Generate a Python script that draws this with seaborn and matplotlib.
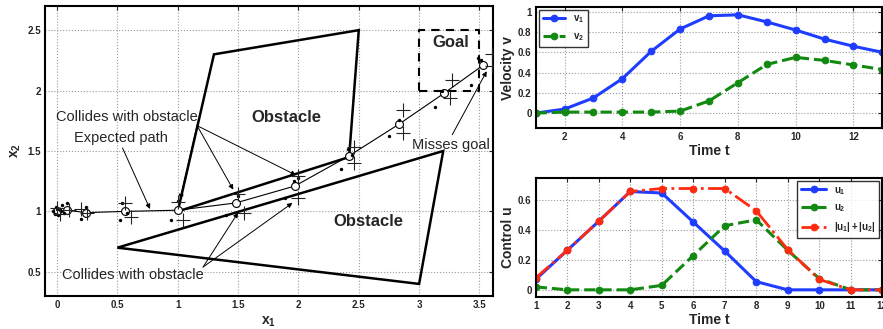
import matplotlib
matplotlib.use("Agg")
import matplotlib.pyplot as plt
import numpy as np
import pandas as pd
import seaborn as sns

# expected path (open circles joined by a thin line)
path_x1 = [0.0, 0.08, 0.24, 0.56, 1.0, 1.48, 1.97, 2.42, 2.83, 3.21, 3.53]
path_x2 = [1.0, 1.01, 0.99, 1.0, 1.01, 1.07, 1.21, 1.46, 1.72, 1.98, 2.21]

# sampled states (small dots)
dot_x1 = [-0.03, -0.02, 0.0, 0.01, -0.01, 0.03, 0.04, 0.06, 0.02, 0.08, 0.2, 0.24, 0.54, 0.52, 0.58,
          0.94, 1.0, 1.5, 1.4, 1.965, 1.89, 2.0, 2.35, 2.41, 2.44, 2.75, 2.83, 3.13, 3.19, 3.43, 3.49, 3.51]
dot_x2 = [1.0, 0.98, 1.02, 0.97, 1.04, 1.0, 1.05, 0.99, 1.01, 1.07, 0.94, 1.04, 1.07, 0.93, 0.99,
          0.93, 1.085, 1.13, 0.97, 1.25, 1.11, 1.28, 1.355, 1.52, 1.47, 1.62, 1.76, 1.86, 2.0, 2.05, 2.27, 2.25]

# sampled states (big crosses)
cross_x1 = [0.0, 0.02, 0.1, 0.2, 0.25, 0.56, 0.61, 1.0, 1.04, 1.5, 1.55, 2.0, 2.0,
            2.46, 2.46, 2.87, 2.87, 3.27, 3.26, 3.6, 3.6]
cross_x2 = [1.03, 0.98, 1.01, 1.02, 0.99, 1.07, 0.95, 1.08, 0.93, 1.14, 0.99, 1.29, 1.11,
            1.53, 1.4, 1.84, 1.65, 2.09, 1.94, 2.3, 2.2]

obst_upper_x1 = [1.0, 1.3, 2.5, 2.42]
obst_upper_x2 = [1.0, 2.3, 2.5, 1.45]
obst_lower_x1 = [0.5, 3.2, 3.0]
obst_lower_x2 = [0.7, 1.5, 0.4]
goal_x1 = [3.0, 3.5]
goal_x2 = [2.0, 2.5]

t_vel = list(range(1, 14))
v1 = [0.0, 0.04, 0.15, 0.34, 0.61, 0.83, 0.96, 0.97, 0.90, 0.82, 0.73, 0.66, 0.60]
v2 = [0.0, 0.01, 0.01, 0.01, 0.01, 0.02, 0.12, 0.30, 0.48, 0.55, 0.52, 0.475, 0.43]

t_ctl = list(range(1, 13))
u1 = [0.07, 0.265, 0.46, 0.66, 0.65, 0.455, 0.26, 0.055, 0.0, 0.0, 0.0, 0.0]
u2 = [0.02, 0.0, 0.0, 0.0, 0.03, 0.23, 0.43, 0.47, 0.265, 0.075, 0.0, 0.0]
u_sum = [0.08, 0.265, 0.46, 0.66, 0.68, 0.68, 0.68, 0.53, 0.27, 0.07, 0.0, 0.0]

sns.set_style("white")
plt.rcParams["font.family"] = ["Liberation Sans", "DejaVu Sans"]
plt.rcParams["mathtext.fontset"] = "custom"
plt.rcParams["mathtext.rm"] = "Liberation Sans:bold"
plt.rcParams["mathtext.it"] = "Liberation Sans:bold"
plt.rcParams["mathtext.bf"] = "Liberation Sans:bold"

BLUE = "#1f3dff"
GREEN = "#128a12"
RED = "#ff2a10"


def matlab_axes(ax):
  ax.grid(True, linestyle=":", color="#9a9a9a", lw=0.8)
  ax.tick_params(direction="in", top=True, right=True, length=3, width=0.8, labelsize=7, pad=3)
  for lbl in ax.get_xticklabels() + ax.get_yticklabels():
    lbl.set_fontweight("bold")
  for s in ax.spines.values():
    s.set_visible(True)
    s.set_color("black")
    s.set_linewidth(1.5)


fig = plt.figure(figsize=(8.83, 3.29), dpi=100)

# ---- left: state space
ax = fig.add_axes([0.051, 0.1003, 0.507, 0.8815])
ax.fill(obst_upper_x1, obst_upper_x2, facecolor="none", edgecolor="black", lw=1.8, zorder=3)
ax.fill(obst_lower_x1, obst_lower_x2, facecolor="none", edgecolor="black", lw=1.8, zorder=3)
ax.plot([goal_x1[0], goal_x1[1], goal_x1[1], goal_x1[0], goal_x1[0]],
        [goal_x2[0], goal_x2[0], goal_x2[1], goal_x2[1], goal_x2[0]],
        color="black", lw=1.5, ls=(0, (4, 3)), zorder=3)

sns.lineplot(x=path_x1, y=path_x2, sort=False, estimator=None, color="black", lw=0.8, ax=ax, zorder=4)
sns.scatterplot(x=path_x1, y=path_x2, marker="o", s=32, facecolor="white", edgecolor="black",
                linewidth=0.8, ax=ax, zorder=5)
sns.scatterplot(x=dot_x1, y=dot_x2, marker="o", s=6, color="black", linewidth=0, ax=ax, zorder=6)
sns.scatterplot(x=cross_x1, y=cross_x2, marker="+", s=110, color="#222222", linewidth=0.8, ax=ax, zorder=6)

ax.set_xlim(-0.1, 3.61)
ax.set_ylim(0.3, 2.7)
ax.set_xticks([0, 0.5, 1, 1.5, 2, 2.5, 3, 3.5])
ax.set_xticklabels(["0", "0.5", "1", "1.5", "2", "2.5", "3", "3.5"])
ax.set_yticks([0.5, 1, 1.5, 2, 2.5])
ax.set_yticklabels(["0.5", "1", "1.5", "2", "2.5"])
ax.set_xlabel(r"$x_1$", fontsize=10, labelpad=3)
ax.set_ylabel(r"$x_2$", fontsize=10, labelpad=3)
matlab_axes(ax)

ax.text(1.9, 1.78, "Obstacle", fontsize=12, fontweight="bold", ha="center", va="center")
ax.text(2.58, 0.92, "Obstacle", fontsize=12, fontweight="bold", ha="center", va="center")
ax.text(3.26, 2.4, "Goal", fontsize=12, fontweight="bold", ha="center", va="center")

arrow = dict(arrowstyle="-|>", color="black", lw=0.7, mutation_scale=7, shrinkA=0, shrinkB=0)
ax.text(0.58, 1.78, "Collides with obstacle", fontsize=10.5, ha="center", va="center", zorder=7)
for tgt in [(1.02, 1.1), (1.46, 1.18), (1.98, 1.3)]:
  ax.annotate("", xy=tgt, xytext=(1.16, 1.71), arrowprops=arrow, zorder=7)
ax.annotate("Expected path", xy=(0.77, 1.02), xytext=(0.53, 1.61), fontsize=10.5, ha="center",
            va="center", arrowprops=dict(arrow, relpos=(0.5, 0.0)), zorder=7)
ax.text(0.63, 0.47, "Collides with obstacle", fontsize=10.5, ha="center", va="center", zorder=7)
for tgt in [(1.5, 0.99), (1.95, 1.07)]:
  ax.annotate("", xy=tgt, xytext=(1.21, 0.54), arrowprops=arrow, zorder=7)
ax.annotate("Misses goal", xy=(3.56, 2.16), xytext=(3.26, 1.55), fontsize=10.5, ha="center",
            va="center", arrowprops=dict(arrow, relpos=(0.5, 1.0)), zorder=7)

# ---- top right: velocity
axv = fig.add_axes([0.6067, 0.610, 0.3925, 0.3696])
sns.lineplot(x=t_vel, y=v1, color=BLUE, lw=2.2, marker="o", markersize=4.8, markeredgecolor=BLUE,
             label=r"$v_1$", ax=axv)
sns.lineplot(x=t_vel, y=v2, color=GREEN, lw=2.2, ls="--", marker="o", markersize=4.8,
             markeredgecolor=GREEN, label=r"$v_2$", ax=axv)
axv.set_xlim(1, 13)
axv.set_ylim(-0.15, 1.05)
axv.set_xticks([2, 4, 6, 8, 10, 12])
axv.set_yticks([0, 0.2, 0.4, 0.6, 0.8, 1])
axv.set_yticklabels(["0", "0.2", "0.4", "0.6", "0.8", "1"])
axv.set_xlabel("Time t", fontsize=10, fontweight="bold", labelpad=1)
axv.set_ylabel("Velocity v", fontsize=10, fontweight="bold", labelpad=2)
matlab_axes(axv)
leg = axv.legend(loc="upper left", fontsize=7, frameon=True, fancybox=False, edgecolor="black",
                 handlelength=2.3, borderpad=0.4, labelspacing=0.6, borderaxespad=0.3)
leg.get_frame().set_linewidth(1.0)

# ---- bottom right: control
axu = fig.add_axes([0.6067, 0.0964, 0.3925, 0.3623])
sns.lineplot(x=t_ctl, y=u1, color=BLUE, lw=2.2, marker="o", markersize=4.8, markeredgecolor=BLUE,
             label=r"$u_1$", ax=axu)
sns.lineplot(x=t_ctl, y=u2, color=GREEN, lw=2.2, ls="--", marker="o", markersize=4.8,
             markeredgecolor=GREEN, label=r"$u_2$", ax=axu)
sns.lineplot(x=t_ctl, y=u_sum, color=RED, lw=2.0, ls="-.", marker="o", markersize=4.8,
             markeredgecolor=RED, label=r"$|u_1|+|u_2|$", ax=axu)
axu.set_xlim(1, 12)
axu.set_ylim(-0.05, 0.75)
axu.set_xticks(t_ctl)
axu.set_yticks([0, 0.2, 0.4, 0.6])
axu.set_yticklabels(["0", "0.2", "0.4", "0.6"])
axu.set_xlabel("Time t", fontsize=10, fontweight="bold", labelpad=1)
axu.set_ylabel("Control u", fontsize=10, fontweight="bold", labelpad=2)
matlab_axes(axu)
leg = axu.legend(loc="upper right", fontsize=7, frameon=True, fancybox=False, edgecolor="black",
                 handlelength=2.6, borderpad=0.4, labelspacing=0.6, borderaxespad=0.3)
leg.get_frame().set_linewidth(1.0)

fig.savefig("out.png", dpi=100)
